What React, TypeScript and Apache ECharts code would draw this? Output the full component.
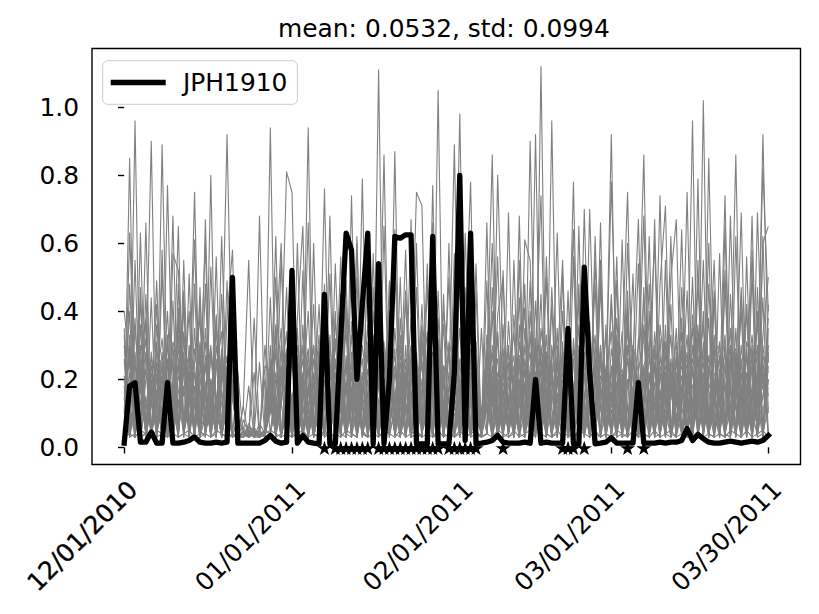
import React, { useEffect, useRef } from 'react';
import * as echarts from 'echarts';

const titleText = 'mean: 0.0532, std: 0.0994';
const stationName = 'JPH1910';
const tickIdx = [0, 31, 62, 90, 119];
const tickLabels = ['12/01/2010', '01/01/2011', '02/01/2011', '03/01/2011', '03/30/2011'];
const yTicks = [0, 0.2, 0.4, 0.6, 0.8, 1.0];

// highlighted station, one value per day (12/01/2010 .. 03/30/2011)
const station = [
  0.012, 0.18, 0.19, 0.015, 0.015, 0.045, 0.012, 0.012, 0.19, 0.012, 0.012, 0.015, 0.02, 0.03, 0.015, 0.012, 0.012, 0.015, 0.012, 0.015,
  0.50, 0.012, 0.012, 0.012, 0.012, 0.012, 0.02, 0.035, 0.018, 0.012, 0.015, 0.52, 0.012, 0.035, 0.015, 0.012, 0.01, 0.45, 0.01, 0.01,
  0.32, 0.63, 0.58, 0.20, 0.42, 0.63, 0.01, 0.54, 0.01, 0.2, 0.62, 0.615, 0.625, 0.625, 0.01, 0.01, 0.01, 0.62, 0.01, 0.01,
  0.01, 0.22, 0.80, 0.02, 0.63, 0.01, 0.012, 0.015, 0.02, 0.035, 0.015, 0.012, 0.012, 0.012, 0.015, 0.012, 0.20, 0.012, 0.015, 0.012,
  0.012, 0.012, 0.35, 0.01, 0.01, 0.53, 0.22, 0.01, 0.012, 0.015, 0.028, 0.012, 0.012, 0.012, 0.012, 0.19, 0.012, 0.012, 0.012, 0.015,
  0.012, 0.015, 0.015, 0.02, 0.055, 0.02, 0.038, 0.025, 0.015, 0.012, 0.012, 0.015, 0.018, 0.015, 0.012, 0.015, 0.018, 0.015, 0.02, 0.035,
];

// days flagged with a star marker (drawn at 0)
const starDays = [37, 39, 40, 41, 42, 43, 44, 45, 47, 48, 49, 50, 51, 52, 53, 54, 55, 56, 57, 58, 60, 61, 62, 63, 64, 65, 70, 81, 82, 83, 85, 93, 96];

// other stations (values in hundredths)
const g01 = [
  4, 85, 3, 22, 5, 3, 31, 4, 18, 3, 26, 4, 3, 35, 5, 3, 20, 3, 28, 4,
  15, 3, 4, 3, 5, 3, 4, 22, 3, 30, 4, 3, 18, 3, 24, 4, 3, 28, 4, 19,
  3, 25, 4, 3, 79, 3, 21, 4, 3, 32, 4, 17, 3, 24, 4, 3, 29, 3, 16, 3,
  22, 3, 4, 27, 3, 4, 3, 19, 3, 33, 4, 15, 24, 3, 18, 3, 28, 74, 4, 20,
  3, 16, 30, 3, 14, 3, 25, 4, 3, 21, 34, 3, 4, 18, 27, 3, 15, 31, 3, 22,
  4, 3, 26, 3, 19, 35, 3, 102, 4, 3, 23, 4, 29, 3, 17, 3, 24, 4, 30, 15,
];
const g02 = [
  3, 63, 20, 3, 38, 4, 3, 25, 3, 19, 4, 42, 3, 4, 23, 16, 3, 36, 4, 3,
  24, 3, 4, 3, 4, 3, 5, 11, 28, 3, 16, 40, 3, 21, 4, 14, 33, 3, 4, 26,
  4, 3, 37, 15, 3, 20, 4, 111, 3, 18, 27, 3, 14, 38, 3, 12, 4, 22, 30, 3,
  17, 26, 3, 13, 4, 31, 3, 4, 24, 3, 16, 4, 39, 14, 3, 22, 4, 19, 3, 96,
  4, 28, 3, 17, 4, 13, 37, 3, 19, 4, 3, 24, 14, 38, 3, 20, 4, 3, 29, 3,
  18, 33, 4, 14, 25, 3, 16, 55, 4, 28, 3, 19, 4, 35, 3, 22, 4, 40, 3, 20,
];
const g03 = [
  18, 4, 96, 3, 4, 28, 3, 17, 40, 3, 14, 4, 22, 3, 30, 4, 15, 3, 24, 4,
  3, 4, 12, 3, 4, 3, 4, 30, 3, 4, 23, 14, 3, 36, 4, 19, 3, 4, 25, 3,
  32, 4, 3, 24, 13, 3, 40, 17, 86, 3, 12, 25, 4, 16, 3, 33, 4, 19, 3, 14,
  3, 18, 35, 4, 12, 20, 3, 14, 28, 4, 23, 3, 4, 17, 41, 3, 13, 26, 4, 3,
  24, 55, 3, 4, 30, 14, 3, 20, 4, 36, 3, 4, 19, 3, 25, 13, 4, 40, 3, 17,
  3, 22, 14, 38, 4, 12, 27, 3, 85, 16, 4, 31, 3, 20, 13, 42, 3, 18, 26, 4,
];
const g04 = [
  3, 30, 14, 4, 20, 90, 3, 4, 26, 15, 3, 33, 4, 18, 3, 24, 12, 38, 3, 16,
  28, 3, 4, 3, 5, 4, 3, 4, 17, 35, 3, 13, 26, 4, 15, 42, 3, 20, 4, 31,
  12, 19, 3, 28, 4, 16, 3, 23, 13, 4, 87, 3, 30, 4, 18, 3, 25, 4, 14, 36,
  3, 4, 20, 15, 33, 3, 12, 4, 19, 26, 3, 37, 13, 20, 4, 15, 3, 30, 17, 3,
  35, 4, 16, 78, 3, 22, 4, 30, 14, 3, 18, 27, 4, 13, 3, 32, 19, 4, 24, 14,
  28, 3, 17, 4, 21, 13, 36, 3, 19, 55, 4, 3, 25, 16, 40, 3, 14, 28, 4, 35,
];
const g05 = [
  25, 12, 3, 36, 4, 18, 3, 89, 13, 4, 21, 15, 40, 3, 17, 4, 29, 14, 3, 22,
  4, 3, 5, 3, 4, 3, 4, 14, 36, 3, 18, 4, 27, 12, 3, 22, 15, 4, 33, 3,
  20, 34, 4, 3, 17, 28, 3, 13, 22, 40, 4, 15, 58, 3, 26, 4, 12, 35, 3, 19,
  4, 24, 12, 38, 3, 14, 4, 21, 3, 17, 29, 4, 15, 3, 35, 12, 20, 4, 26, 3,
  16, 4, 24, 64, 3, 13, 28, 4, 17, 33, 3, 14, 22, 4, 18, 3, 36, 15, 4, 27,
  12, 19, 3, 30, 14, 22, 4, 17, 38, 3, 15, 74, 4, 26, 3, 18, 33, 13, 20, 4,
];
const g06 = [
  14, 40, 3, 18, 4, 24, 15, 3, 77, 12, 30, 4, 16, 22, 3, 35, 13, 4, 19, 27,
  3, 4, 3, 6, 4, 3, 5, 4, 13, 22, 3, 31, 14, 4, 28, 3, 17, 37, 4, 14,
  26, 3, 16, 32, 4, 3, 24, 13, 18, 4, 35, 14, 3, 21, 75, 71, 4, 16, 38, 3,
  30, 13, 4, 17, 24, 3, 4, 33, 12, 20, 3, 18, 27, 4, 3, 40, 14, 3, 22, 16,
  4, 20, 13, 3, 65, 4, 16, 24, 3, 4, 29, 17, 3, 35, 12, 20, 4, 14, 25, 3,
  36, 4, 13, 21, 3, 30, 15, 4, 19, 12, 27, 3, 68, 14, 22, 4, 16, 37, 3, 24,
];
const g07 = [
  4, 19, 28, 3, 15, 4, 36, 14, 3, 57, 52, 4, 19, 3, 27, 14, 4, 23, 34, 3,
  18, 3, 4, 5, 3, 4, 5, 16, 3, 20, 34, 4, 15, 26, 3, 12, 20, 14, 4, 38,
  14, 3, 21, 12, 30, 15, 4, 19, 3, 27, 4, 38, 13, 3, 16, 24, 4, 77, 3, 21,
  3, 29, 16, 4, 22, 13, 3, 4, 40, 3, 14, 25, 4, 31, 16, 3, 19, 12, 33, 4,
  21, 14, 3, 18, 4, 70, 12, 3, 26, 15, 4, 38, 13, 20, 3, 23, 4, 17, 3, 32,
  4, 26, 12, 17, 3, 24, 4, 31, 3, 20, 14, 4, 17, 86, 3, 29, 4, 20, 14, 38,
];
const g08 = [
  30, 4, 15, 26, 3, 4, 20, 32, 12, 18, 3, 24, 13, 75, 4, 19, 3, 14, 27, 4,
  3, 22, 3, 4, 6, 3, 4, 24, 14, 3, 11, 26, 4, 17, 40, 3, 13, 24, 4, 15,
  3, 27, 14, 4, 19, 12, 32, 3, 15, 21, 4, 19, 26, 3, 12, 36, 14, 4, 105, 3,
  15, 4, 26, 3, 18, 28, 4, 12, 17, 34, 3, 4, 21, 3, 26, 14, 32, 4, 15, 23,
  4, 31, 3, 14, 20, 4, 70, 15, 3, 22, 4, 33, 12, 3, 30, 4, 13, 26, 18, 3,
  22, 14, 35, 3, 16, 4, 20, 13, 27, 3, 18, 24, 4, 17, 69, 3, 28, 4, 15, 26,
];
const g09 = [
  11, 22, 4, 44, 3, 15, 24, 4, 20, 3, 16, 28, 4, 13, 20, 60, 3, 30, 15, 3,
  20, 3, 4, 3, 4, 5, 3, 4, 20, 12, 28, 3, 22, 4, 16, 30, 3, 15, 26, 4,
  17, 3, 28, 4, 22, 3, 15, 30, 4, 14, 24, 3, 18, 30, 4, 20, 3, 26, 4, 40,
  25, 16, 3, 29, 4, 16, 3, 22, 14, 3, 26, 13, 4, 36, 3, 19, 4, 14, 28, 3,
  20, 4, 17, 26, 3, 28, 4, 18, 55, 3, 24, 4, 17, 29, 3, 15, 22, 4, 34, 13,
  3, 24, 4, 28, 12, 3, 34, 4, 24, 15, 3, 21, 30, 4, 13, 3, 58, 4, 22, 17,
];
const g10 = [
  16, 26, 3, 19, 32, 4, 3, 21, 14, 30, 4, 18, 3, 25, 38, 4, 80, 3, 21, 16,
  3, 4, 3, 7, 4, 3, 5, 20, 4, 15, 24, 3, 35, 4, 18, 3, 28, 12, 4, 22,
  4, 20, 3, 18, 26, 4, 19, 3, 28, 14, 4, 3, 22, 16, 4, 29, 18, 3, 21, 4,
  60, 4, 18, 3, 26, 4, 3, 16, 4, 22, 15, 30, 3, 17, 23, 4, 27, 16, 3, 30,
  13, 22, 4, 29, 15, 3, 19, 33, 4, 17, 92, 3, 20, 4, 27, 15, 3, 21, 4, 36,
  20, 3, 22, 16, 33, 4, 18, 25, 3, 16, 31, 4, 3, 23, 16, 27, 4, 69, 19, 30,
];
const g11 = [
  21, 3, 35, 17, 4, 22, 13, 28, 3, 16, 24, 4, 30, 14, 3, 27, 16, 4, 22, 92,
  14, 4, 3, 5, 3, 4, 3, 12, 22, 4, 18, 13, 3, 30, 12, 21, 4, 31, 14, 3,
  24, 15, 33, 3, 14, 36, 4, 21, 3, 17, 13, 30, 4, 19, 28, 3, 22, 15, 32, 4,
  18, 89, 4, 20, 15, 3, 4, 28, 17, 3, 36, 4, 18, 24, 3, 34, 4, 23, 14, 3,
  27, 4, 19, 3, 24, 32, 14, 3, 21, 16, 78, 22, 4, 26, 14, 3, 24, 13, 30, 4,
  24, 17, 4, 34, 13, 3, 26, 15, 4, 33, 13, 3, 17, 4, 30, 14, 3, 13, 92, 25,
];
const g12 = [
  3, 17, 25, 4, 28, 16, 42, 3, 18, 24, 4, 34, 16, 3, 31, 18, 4, 26, 3, 38,
  58, 3, 5, 3, 4, 3, 5, 18, 33, 4, 9, 27, 3, 16, 23, 4, 30, 3, 21, 16,
  30, 4, 17, 25, 3, 23, 14, 33, 4, 12, 16, 22, 3, 28, 4, 17, 34, 4, 24, 18,
  13, 21, 98, 3, 29, 17, 4, 18, 21, 3, 12, 20, 34, 4, 19, 28, 3, 35, 20, 4,
  18, 26, 3, 32, 12, 4, 10, 13, 29, 3, 16, 4, 28, 75, 3, 22, 33, 4, 12, 20,
  31, 4, 28, 12, 3, 39, 14, 22, 4, 13, 20, 33, 3, 28, 18, 4, 15, 20, 82, 40,
];
const g13 = [
  26, 4, 18, 30, 3, 20, 4, 16, 24, 3, 37, 4, 22, 17, 3, 9, 20, 4, 13, 24,
  4, 3, 12, 55, 4, 3, 4, 26, 3, 20, 14, 3, 24, 12, 4, 26, 14, 3, 30, 13,
  4, 38, 12, 3, 14, 30, 4, 10, 24, 35, 3, 11, 20, 4, 23, 14, 3, 20, 13, 24,
  3, 14, 24, 33, 78, 4, 3, 26, 16, 4, 19, 14, 3, 26, 16, 4, 13, 18, 24, 3,
  26, 16, 3, 12, 36, 4, 14, 27, 3, 24, 13, 31, 4, 60, 20, 3, 19, 28, 4, 24,
  16, 3, 18, 24, 4, 26, 19, 3, 22, 30, 4, 14, 35, 3, 25, 13, 30, 4, 60, 65,
];
const g14 = [
  19, 28, 4, 13, 23, 3, 17, 14, 30, 4, 12, 26, 3, 29, 16, 4, 27, 13, 3, 19,
  22, 3, 4, 18, 3, 68, 4, 15, 3, 18, 29, 4, 12, 22, 3, 13, 20, 26, 3, 24,
  21, 3, 25, 17, 4, 10, 28, 3, 19, 25, 4, 33, 12, 3, 21, 26, 4, 23, 17, 3,
  16, 26, 4, 24, 18, 3, 35, 4, 30, 18, 3, 28, 15, 4, 30, 17, 3, 29, 13, 25,
  3, 24, 17, 4, 14, 26, 3, 12, 18, 4, 23, 16, 34, 3, 27, 67, 4, 22, 14, 3,
  27, 20, 3, 18, 28, 4, 22, 36, 3, 21, 26, 4, 24, 20, 3, 18, 24, 4, 33, 50,
];
const g15 = [
  33, 3, 11, 24, 4, 26, 21, 3, 15, 26, 4, 22, 27, 3, 18, 31, 4, 25, 16, 3,
  17, 4, 3, 6, 4, 3, 4, 94, 3, 24, 13, 4, 30, 17, 3, 11, 25, 4, 23, 18,
  3, 18, 22, 4, 21, 26, 3, 24, 31, 4, 22, 15, 3, 19, 24, 4, 20, 28, 3, 22,
  28, 3, 15, 30, 4, 16, 3, 24, 86, 3, 16, 21, 4, 13, 22, 3, 30, 21, 4, 22,
  24, 3, 27, 18, 4, 15, 24, 3, 30, 14, 4, 26, 19, 3, 16, 30, 86, 4, 19, 16,
  3, 18, 31, 4, 23, 18, 3, 21, 17, 4, 19, 28, 3, 16, 26, 4, 18, 30, 3, 42,
];
const g16 = [
  40, 24, 3, 20, 27, 4, 25, 20, 3, 18, 33, 4, 24, 21, 3, 25, 19, 4, 29, 14,
  3, 9, 4, 5, 3, 7, 4, 20, 29, 60, 3, 15, 20, 4, 17, 30, 3, 22, 17, 4,
  18, 24, 3, 29, 16, 4, 33, 18, 3, 20, 29, 4, 24, 25, 3, 31, 22, 4, 27, 20,
  3, 31, 20, 4, 27, 24, 3, 18, 60, 4, 20, 24, 3, 27, 25, 4, 22, 26, 3, 27,
  30, 4, 22, 26, 3, 23, 29, 4, 24, 20, 3, 19, 23, 4, 30, 22, 68, 3, 24, 21,
  19, 4, 20, 27, 3, 30, 17, 4, 23, 19, 3, 25, 28, 4, 20, 26, 3, 24, 17, 30,
];
const g17 = [
  10, 33, 4, 28, 37, 3, 28, 24, 4, 31, 26, 3, 28, 24, 4, 17, 30, 3, 20, 26,
  4, 3, 8, 4, 5, 3, 24, 22, 3, 25, 81, 75, 4, 20, 29, 3, 22, 28, 4, 32,
  25, 4, 24, 20, 3, 31, 21, 4, 22, 29, 3, 27, 20, 4, 22, 25, 3, 21, 30, 4,
  31, 24, 3, 26, 20, 4, 10, 29, 3, 80, 25, 4, 22, 26, 3, 24, 27, 4, 28, 24,
  3, 27, 30, 4, 28, 21, 3, 24, 27, 4, 22, 29, 3, 30, 21, 4, 24, 29, 60, 3,
  30, 22, 4, 29, 25, 3, 31, 27, 4, 28, 30, 3, 26, 29, 4, 31, 26, 3, 27, 22,
];
const g18 = [
  3, 12, 38, 4, 45, 3, 14, 4, 33, 3, 41, 4, 15, 3, 44, 4, 11, 39, 3, 13,
  4, 3, 4, 3, 4, 5, 20, 4, 12, 3, 15, 4, 38, 65, 3, 14, 42, 4, 3, 40,
  4, 43, 3, 12, 46, 4, 13, 40, 3, 48, 4, 13, 44, 3, 4, 42, 11, 3, 46, 4,
  3, 41, 13, 4, 45, 3, 4, 13, 3, 39, 50, 4, 14, 44, 3, 11, 43, 4, 3, 42,
  4, 40, 12, 3, 44, 4, 13, 48, 3, 11, 45, 4, 12, 41, 3, 4, 47, 3, 12, 74,
  4, 42, 3, 11, 46, 4, 13, 40, 3, 44, 4, 3, 45, 12, 4, 41, 3, 13, 44, 4,
];
const g19 = [
  35, 3, 4, 47, 3, 12, 49, 4, 3, 43, 4, 46, 3, 13, 4, 48, 3, 4, 45, 11,
  3, 4, 3, 4, 22, 3, 4, 44, 3, 12, 47, 4, 3, 12, 94, 3, 11, 48, 4, 3,
  45, 4, 11, 50, 3, 12, 47, 4, 3, 49, 12, 4, 46, 13, 3, 4, 48, 12, 3, 45,
  4, 12, 49, 3, 4, 46, 3, 4, 47, 12, 3, 69, 4, 12, 48, 3, 11, 45, 4, 47,
  12, 3, 46, 4, 3, 47, 11, 4, 48, 3, 43, 12, 4, 46, 3, 4, 45, 12, 3, 48,
  71, 4, 3, 47, 11, 4, 49, 12, 3, 46, 4, 48, 12, 3, 45, 11, 4, 47, 3, 28,
];
const g20 = [
  4, 48, 12, 3, 4, 44, 3, 52, 11, 4, 48, 3, 51, 4, 47, 3, 53, 11, 4, 49,
  3, 4, 3, 4, 5, 3, 4, 10, 50, 3, 11, 47, 4, 52, 3, 60, 4, 13, 51, 3,
  11, 49, 4, 3, 12, 52, 4, 48, 3, 13, 4, 50, 3, 12, 47, 4, 11, 51, 3, 12,
  50, 3, 11, 47, 4, 12, 3, 49, 4, 3, 52, 4, 55, 3, 11, 49, 4, 12, 50, 3,
  4, 51, 3, 12, 48, 4, 11, 3, 50, 12, 4, 49, 3, 11, 51, 4, 12, 48, 3, 4,
  12, 50, 67, 3, 11, 50, 4, 3, 48, 11, 4, 52, 3, 12, 47, 4, 51, 3, 4, 12,
];
const g21 = [
  14, 4, 55, 3, 13, 4, 3, 58, 4, 12, 3, 55, 4, 48, 3, 12, 4, 56, 3, 13,
  4, 3, 4, 3, 38, 4, 3, 13, 4, 56, 12, 3, 10, 4, 12, 3, 11, 76, 4, 54,
  12, 3, 55, 11, 4, 3, 57, 4, 12, 3, 56, 4, 13, 3, 4, 12, 54, 3, 4, 13,
  4, 57, 3, 12, 4, 54, 3, 11, 13, 56, 4, 12, 3, 55, 4, 90, 12, 3, 56, 11,
  4, 13, 3, 56, 4, 12, 3, 55, 11, 4, 13, 56, 3, 4, 12, 54, 3, 11, 13, 4,
  55, 3, 12, 64, 4, 3, 55, 4, 12, 3, 57, 4, 11, 12, 3, 56, 4, 13, 3, 20,
];
const g22 = [
  3, 12, 4, 63, 3, 13, 4, 12, 3, 14, 65, 4, 12, 61, 3, 4, 13, 3, 62, 12,
  4, 3, 4, 3, 4, 3, 30, 11, 62, 3, 13, 4, 60, 3, 11, 4, 3, 12, 4, 12,
  56, 3, 12, 62, 4, 3, 13, 4, 12, 3, 64, 4, 12, 3, 60, 4, 13, 3, 4, 12,
  3, 12, 4, 63, 13, 3, 4, 12, 3, 11, 13, 4, 12, 3, 61, 55, 4, 12, 3, 13,
  63, 4, 12, 3, 4, 13, 3, 62, 12, 4, 11, 3, 61, 4, 12, 3, 11, 62, 4, 12,
  13, 62, 4, 12, 75, 3, 4, 12, 60, 3, 13, 4, 3, 62, 12, 4, 11, 3, 62, 10,
];
const g23 = [
  12, 3, 14, 4, 66, 3, 13, 4, 12, 68, 3, 4, 13, 12, 3, 67, 4, 12, 3, 13,
  3, 4, 6, 3, 4, 25, 3, 12, 4, 13, 3, 12, 4, 11, 66, 3, 12, 4, 68, 3,
  12, 4, 74, 3, 12, 4, 11, 3, 65, 4, 11, 3, 10, 67, 4, 11, 3, 66, 4, 11,
  3, 10, 4, 11, 3, 10, 4, 66, 3, 12, 4, 13, 3, 68, 4, 10, 92, 3, 13, 4,
  10, 3, 11, 4, 10, 3, 12, 4, 66, 3, 13, 4, 12, 3, 10, 4, 12, 3, 67, 4,
  11, 3, 10, 4, 11, 96, 3, 13, 4, 10, 3, 65, 4, 13, 3, 12, 68, 4, 12, 13,
];
const g24 = [
  3, 4, 3, 5, 4, 3, 5, 4, 3, 4, 3, 4, 5, 3, 4, 4, 3, 5, 4, 3,
  4, 3, 3, 4, 3, 3, 4, 5, 4, 3, 4, 3, 4, 5, 3, 4, 3, 5, 3, 4,
  3, 5, 4, 60, 5, 3, 4, 3, 5, 4, 3, 5, 3, 4, 5, 3, 4, 3, 5, 3,
  4, 3, 5, 3, 4, 5, 3, 4, 3, 5, 4, 3, 5, 3, 4, 5, 3, 112, 4, 3,
  5, 3, 4, 3, 5, 4, 3, 5, 3, 4, 3, 5, 4, 3, 5, 3, 4, 3, 5, 3,
  4, 5, 3, 4, 3, 5, 79, 3, 4, 3, 4, 3, 5, 4, 3, 5, 3, 4, 5, 3,
];

const starPath =
  'path://M50,0 L61.23,34.55 L97.55,34.55 L68.16,55.9 L79.39,90.45 L50,69.1 L20.61,90.45 L31.84,55.9 L2.45,34.55 L38.77,34.55 Z';

export default function App() {
  const ref = useRef<HTMLDivElement>(null);

  useEffect(() => {
    if (!ref.current) return;
    const chart = echarts.init(ref.current, null, { renderer: 'svg' });
    const font = 'DejaVu Sans';
    const fs = 24.9;
    const grays = [g01, g02, g03, g04, g05, g06, g07, g08, g09, g10, g11, g12, g13, g14, g15, g16, g17, g18, g19, g20, g21, g22, g23, g24];

    const series: any[] = grays.map((g, k) => ({
      type: 'line',
      name: 'other' + (k + 1),
      data: g.map((v, i) => [i, v / 100]),
      symbol: 'none',
      silent: true,
      z: 2,
      lineStyle: { color: '#808080', width: 1.1, join: 'round' },
      itemStyle: { color: '#808080' },
      emphasis: { disabled: true },
    }));

    series.push({
      type: 'line',
      name: stationName,
      data: station.map((v, i) => [i, v]),
      symbol: 'none',
      silent: true,
      z: 3,
      color: '#000000',
      lineStyle: { color: '#000000', width: 5.3, join: 'round', cap: 'square' },
      itemStyle: { color: '#000000' },
      emphasis: { disabled: true },
    });

    series.push({
      type: 'scatter',
      name: 'flagged',
      data: starDays.map((d) => [d, 0]),
      symbol: starPath,
      symbolSize: 15,
      symbolKeepAspect: true,
      symbolOffset: [0, 0.6],
      silent: true,
      z: 4,
      itemStyle: { color: '#000000', opacity: 1 },
      emphasis: { disabled: true },
    });

    chart.setOption({
      animation: false,
      backgroundColor: '#ffffff',
      textStyle: { fontFamily: font, color: '#000000' },
      title: {
        text: titleText,
        left: 273,
        top: 11,
        textStyle: { fontFamily: font, fontSize: fs, fontWeight: 'normal', color: '#000000' },
      },
      legend: {
        data: [{ name: stationName, icon: 'rect' }],
        left: 102.7,
        top: 60.7,
        orient: 'vertical',
        itemWidth: 55,
        itemHeight: 5.3,
        padding: [9.3, 10, 9.3, 8],
        backgroundColor: 'rgba(255,255,255,0.8)',
        borderColor: '#cccccc',
        borderWidth: 1,
        borderRadius: 5,
        selectedMode: false,
        textStyle: { fontFamily: font, fontSize: fs, color: '#000000', padding: [0, 0, 0, 12.3] },
      },
      grid: {
        left: 92,
        top: 48.5,
        width: 708.5,
        height: 416,
        show: true,
        borderColor: '#000000',
        borderWidth: 1.4,
        backgroundColor: 'transparent',
        containLabel: false,
        outerBoundsMode: 'none',
      },
      xAxis: {
        type: 'value',
        min: -5.95,
        max: 124.95,
        axisLine: { show: false },
        splitLine: { show: false },
        axisTick: {
          show: true,
          customValues: tickIdx,
          length: 6.2,
          lineStyle: { color: '#000000', width: 1.4 },
        },
        axisLabel: {
          show: true,
          customValues: tickIdx,
          rotate: 45,
          align: 'right',
          verticalAlign: 'top',
          margin: 12,
          hideOverlap: false,
          fontFamily: font,
          fontSize: fs,
          color: '#000000',
          formatter: (v: number) => {
            const k = tickIdx.indexOf(Math.round(v));
            if (k < 0) return '';
            return k === 0 ? '{d|' + tickLabels[k] + '}' : tickLabels[k];
          },
          rich: {
            d: {
              fontFamily: font,
              fontSize: fs,
              color: '#000000',
              textBorderColor: '#000000',
              textBorderWidth: 0.35,
            },
          },
        },
      },
      yAxis: {
        type: 'value',
        min: -0.0506,
        max: 1.173,
        axisLine: { show: false },
        splitLine: { show: false },
        axisTick: {
          show: true,
          customValues: yTicks,
          length: 6.2,
          lineStyle: { color: '#000000', width: 1.4 },
        },
        axisLabel: {
          show: true,
          customValues: yTicks,
          margin: 13,
          hideOverlap: false,
          fontFamily: font,
          fontSize: fs,
          color: '#000000',
          formatter: (v: number) => v.toFixed(1),
        },
      },
      series,
    });

    return () => chart.dispose();
  }, []);

  return <div ref={ref} style={{ position: 'fixed', left: 0, top: 0, width: 819, height: 614 }} />;
}
